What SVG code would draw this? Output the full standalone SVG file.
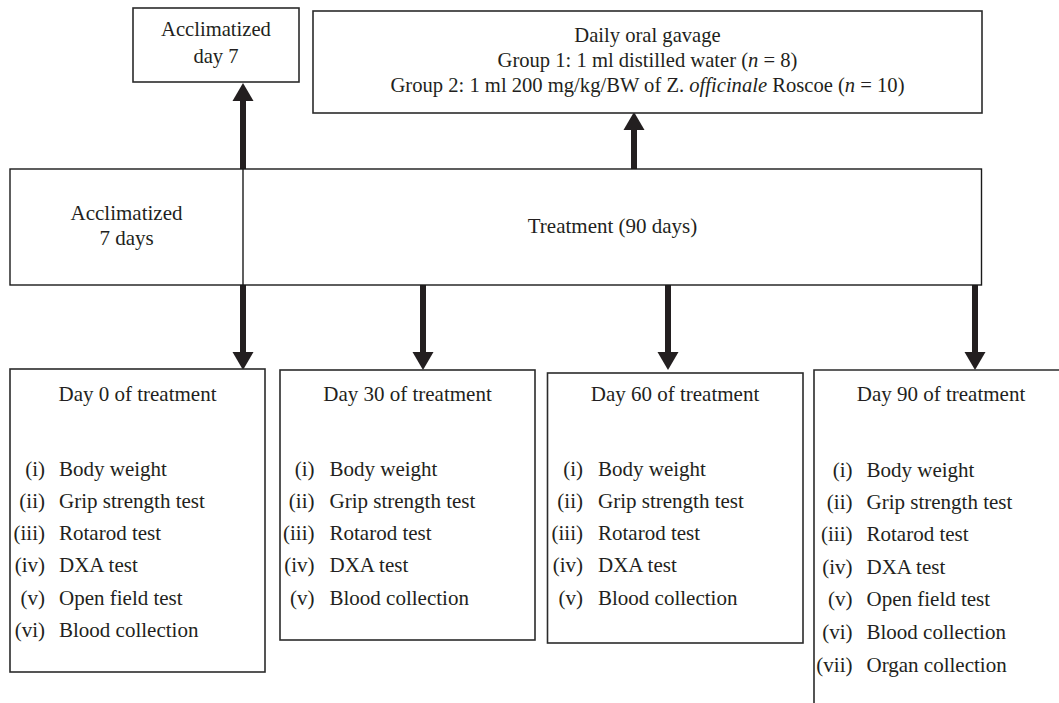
<svg xmlns="http://www.w3.org/2000/svg" width="1059" height="703" viewBox="0 0 1059 703">
<defs>
<style>
.box{fill:#fff;stroke:#2b2b2b;stroke-width:1.6}
.t{font-family:"Liberation Serif","Times New Roman",serif;fill:#231f20}
.s20{font-size:20.6px}
.s21{font-size:21px}
.m{text-anchor:middle}
.e{text-anchor:end}
.conn{stroke:#231f20;stroke-width:6;fill:none;marker-end:url(#ah)}
</style>
<marker id="ah" markerUnits="userSpaceOnUse" viewBox="0 -10.5 18 21" refX="0" refY="0" markerWidth="18" markerHeight="21" orient="auto" overflow="visible">
<path d="M0,-10.5 L18,0 L0,10.5 z" fill="#231f20"/>
</marker>
</defs>
<rect width="1059" height="703" fill="#fff"/>

<g id="connectors">
<line class="conn" x1="243" y1="169" x2="243" y2="101"/>
<line class="conn" x1="634" y1="169" x2="634" y2="130"/>
<line class="conn" x1="243" y1="285" x2="243" y2="352"/>
<line class="conn" x1="423" y1="285" x2="423" y2="352"/>
<line class="conn" x1="668" y1="285" x2="668" y2="352"/>
<line class="conn" x1="975" y1="285" x2="975" y2="352"/>
</g>

<g id="acclimatized-day7">
<rect class="box" x="133" y="8" width="166" height="74"/>
<text class="t s20 m" x="216" y="36">Acclimatized</text>
<text class="t s20 m" x="216" y="63">day 7</text>
</g>

<g id="gavage">
<rect class="box" x="313" y="11" width="669" height="102"/>
<text class="t s20 m" x="647.5" y="42">Daily oral gavage</text>
<text class="t s20 m" x="647.5" y="67">Group 1: 1 ml distilled water (<tspan font-style="italic">n</tspan> = 8)</text>
<text class="t s20 m" x="647.5" y="92">Group 2: 1 ml 200 mg/kg/BW of Z. <tspan font-style="italic">officinale</tspan> Roscoe (<tspan font-style="italic">n</tspan> = 10)</text>
</g>

<g id="timeline">
<rect class="box" x="10" y="169" width="971.5" height="116" style="stroke:#1a1a1a;stroke-width:1.4"/>
<line x1="243" y1="169" x2="243" y2="285" stroke="#1a1a1a" stroke-width="1.4"/>
<text class="t s21 m" x="126.5" y="220">Acclimatized</text>
<text class="t s21 m" x="126.5" y="245">7 days</text>
<text class="t s21 m" x="612.5" y="233">Treatment (90 days)</text>
</g>

<g id="day0">
<rect class="box" x="10" y="369" width="255" height="303"/>
<text class="t s21 m" x="137.5" y="401">Day 0 of treatment</text>
<g class="t s21">
<text class="e" x="45" y="476">(i)</text><text x="59" y="476">Body weight</text>
<text class="e" x="45" y="508">(ii)</text><text x="59" y="508">Grip strength test</text>
<text class="e" x="45" y="540">(iii)</text><text x="59" y="540">Rotarod test</text>
<text class="e" x="45" y="572">(iv)</text><text x="59" y="572">DXA test</text>
<text class="e" x="45" y="605">(v)</text><text x="59" y="605">Open field test</text>
<text class="e" x="45" y="637">(vi)</text><text x="59" y="637">Blood collection</text>
</g>
</g>

<g id="day30">
<rect class="box" x="280" y="370" width="255" height="270"/>
<text class="t s21 m" x="407.5" y="401">Day 30 of treatment</text>
<g class="t s21">
<text class="e" x="314.5" y="476">(i)</text><text x="329.5" y="476">Body weight</text>
<text class="e" x="314.5" y="508">(ii)</text><text x="329.5" y="508">Grip strength test</text>
<text class="e" x="314.5" y="540">(iii)</text><text x="329.5" y="540">Rotarod test</text>
<text class="e" x="314.5" y="572">(iv)</text><text x="329.5" y="572">DXA test</text>
<text class="e" x="314.5" y="605">(v)</text><text x="329.5" y="605">Blood collection</text>
</g>
</g>

<g id="day60">
<rect class="box" x="547.5" y="373" width="255.5" height="270"/>
<text class="t s21 m" x="675" y="401">Day 60 of treatment</text>
<g class="t s21">
<text class="e" x="583" y="476">(i)</text><text x="598" y="476">Body weight</text>
<text class="e" x="583" y="508">(ii)</text><text x="598" y="508">Grip strength test</text>
<text class="e" x="583" y="540">(iii)</text><text x="598" y="540">Rotarod test</text>
<text class="e" x="583" y="572">(iv)</text><text x="598" y="572">DXA test</text>
<text class="e" x="583" y="605">(v)</text><text x="598" y="605">Blood collection</text>
</g>
</g>

<g id="day90">
<path d="M1059,370 H814 V703" fill="none" stroke="#2b2b2b" stroke-width="1.6"/>
<text class="t s21 m" x="941" y="401">Day 90 of treatment</text>
<g class="t s21">
<text class="e" x="852.5" y="477">(i)</text><text x="866.5" y="477">Body weight</text>
<text class="e" x="852.5" y="509">(ii)</text><text x="866.5" y="509">Grip strength test</text>
<text class="e" x="852.5" y="541">(iii)</text><text x="866.5" y="541">Rotarod test</text>
<text class="e" x="852.5" y="574">(iv)</text><text x="866.5" y="574">DXA test</text>
<text class="e" x="852.5" y="606">(v)</text><text x="866.5" y="606">Open field test</text>
<text class="e" x="852.5" y="639">(vi)</text><text x="866.5" y="639">Blood collection</text>
<text class="e" x="852.5" y="672">(vii)</text><text x="866.5" y="672">Organ collection</text>
</g>
</g>
</svg>
